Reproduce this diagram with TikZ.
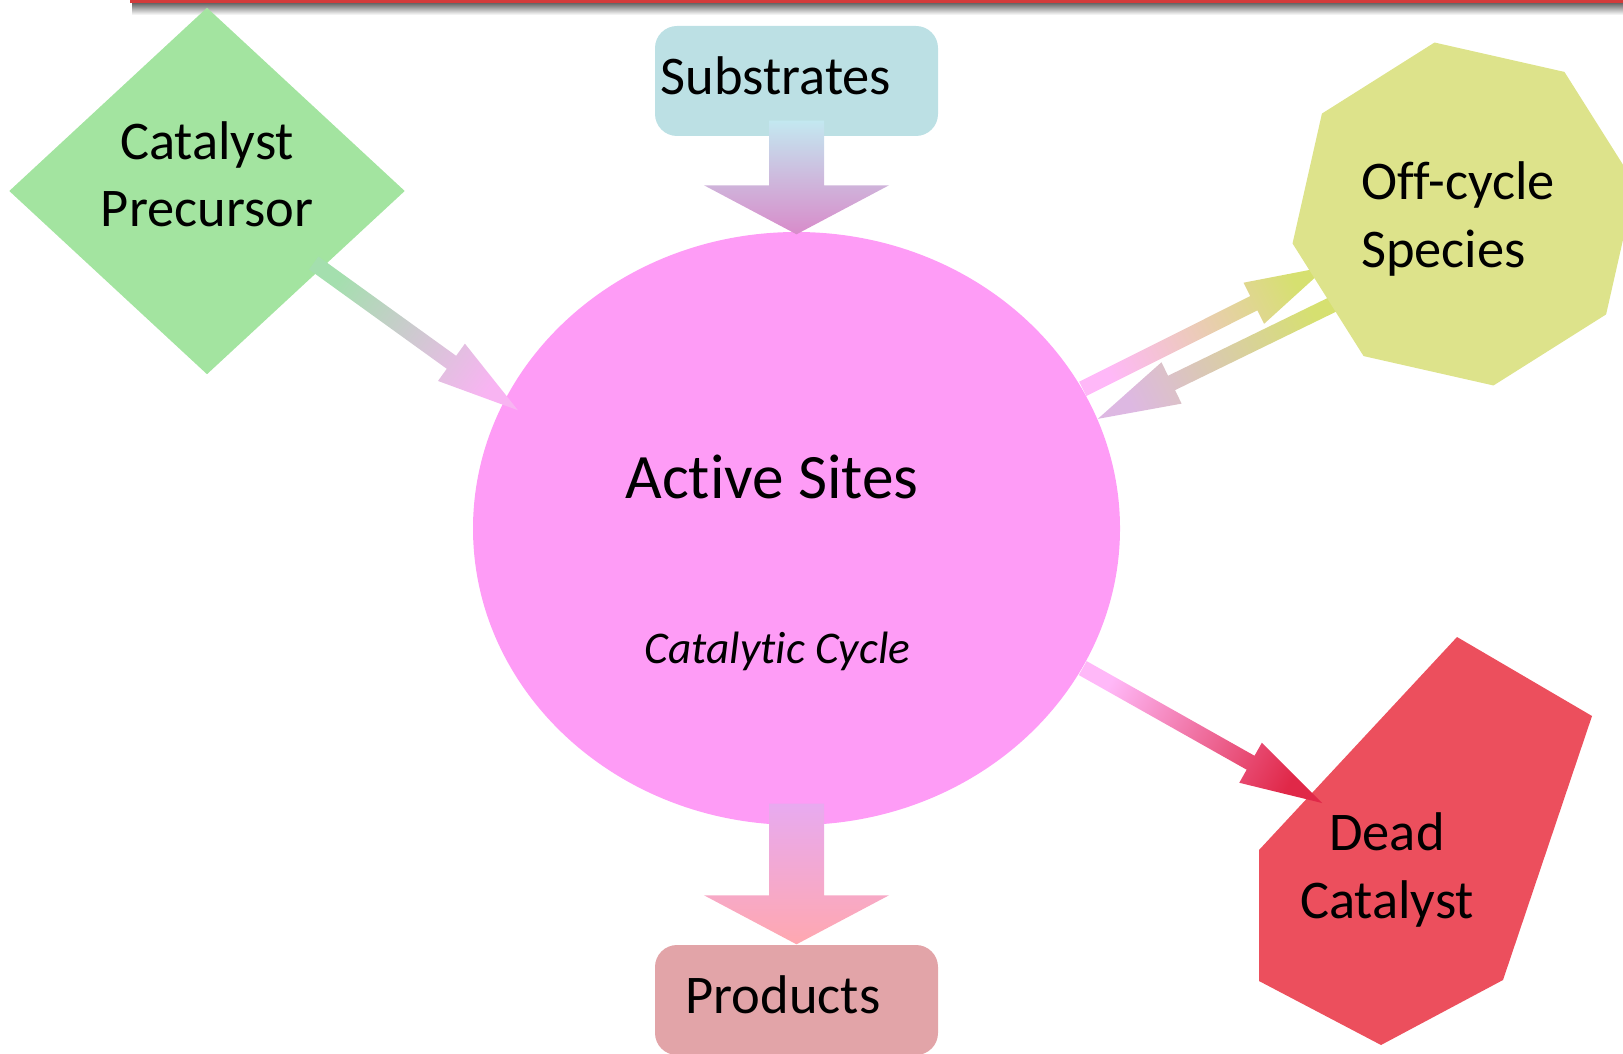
\documentclass[tikz,border=0pt]{standalone}
\usepackage{fontspec}
\setmainfont{Carlito}[Ligatures=NoCommon]
\usetikzlibrary{positioning,shapes.geometric,calc}
\definecolor{mint}{HTML}{A3E4A0}
\definecolor{ice}{HTML}{BCE0E4}
\definecolor{rose}{HTML}{E2A4A8}
\definecolor{orchid}{HTML}{FE9CF6}
\definecolor{lime}{HTML}{DDE38B}
\definecolor{crimson}{HTML}{EC4F5D}
\definecolor{rule}{HTML}{D33B3B}
\definecolor{subA}{HTML}{C3E8F0}
\definecolor{subB}{HTML}{D88BCA}
\definecolor{prodA}{HTML}{E8AAF0}
\definecolor{prodB}{HTML}{FFA8B0}
\definecolor{precA}{HTML}{A4DFAE}
\definecolor{precB}{HTML}{F8B4F2}
\definecolor{outA}{HTML}{FFB8F8}
\definecolor{outB}{HTML}{D6E070}
\definecolor{backA}{HTML}{D6E070}
\definecolor{backB}{HTML}{DDB8E2}
\definecolor{deadA}{HTML}{FFB8F8}
\definecolor{deadB}{HTML}{E02848}
\pgfdeclarelayer{front}
\pgfsetlayers{main,front}
\newcommand\arrowdims[3]{\def\fashaft{#1}\def\fahead{#2}\def\falen{#3}}
\newcommand\flowarrow[4]{%
  \coordinate (fa-tail) at #1;
  \coordinate (fa-tip) at #2;
  \coordinate (fa-base) at ($(fa-tip)!\falen!(fa-tail)$);
  \pgfmathanglebetweenpoints{\pgfpointanchor{fa-tail}{center}}{\pgfpointanchor{fa-tip}{center}}%
  \pgfmathsetmacro\faangle{\pgfmathresult+90}%
  \shade[top color=#3,bottom color=#4,shading angle=\faangle]
    ($(fa-tail)!\fashaft!90:(fa-tip)$) -- ($(fa-base)!\fashaft!90:(fa-tip)$)
    -- ($(fa-base)!\fahead!90:(fa-tip)$) -- (fa-tip)
    -- ($(fa-base)!\fahead!-90:(fa-tip)$) -- ($(fa-base)!\fashaft!-90:(fa-tip)$)
    -- ($(fa-tail)!\fashaft!-90:(fa-tip)$) -- cycle;
}

\begin{document}
\begin{tikzpicture}[x=1cm,y=1cm,
  lbl/.style={inner sep=0pt,align=center,font=\fontsize{15.5}{19.1}\selectfont},
  box/.style={rectangle,rounded corners=0.22cm,minimum width=2.83cm,minimum height=1.10cm,inner sep=0pt}]
\useasboundingbox (0,0) rectangle (16.23,10.53);
\clip (0,0) rectangle (16.23,10.53);
\shade[top color=black!60,bottom color=white] (1.32,10.38) rectangle (16.23,10.50);
\fill[rule] (1.30,10.495) rectangle (16.23,10.53);

\node[diamond,fill=mint,minimum width=3.96cm,minimum height=3.67cm,inner sep=0pt] (precursor) at (2.07,8.62) {};
\node[lbl] (precursor text) at ($(precursor)+(0,0.165)$) {Catalyst\\Precursor};
\node[box,fill=ice] (substrates) at (7.965,9.72) {};
\node[lbl,anchor=base] (substrates text) at (7.76,9.58) {Substrates};
\node[ellipse,fill=orchid,minimum width=6.47cm,minimum height=5.93cm,inner sep=0pt] (active) at (7.965,5.245) {};
\node[anchor=base,inner sep=0pt,font=\fontsize{18}{22}\selectfont] (active text) at (7.72,5.547) {Active Sites};
\node[anchor=base,inner sep=0pt,font=\fontsize{12.9}{15}\selectfont\itshape] (cycle text) at (7.775,3.90) {Catalytic Cycle};
\node[box,fill=rose] (products) at (7.965,0.53) {};
\node[lbl,anchor=base] (products text) at (7.83,0.397) {Products};
\fill[crimson] (14.57,4.16) -- (15.92,3.37) -- (15.03,0.73) -- (13.81,0.08) -- (12.59,0.72) -- (12.59,2.03) -- cycle;
\node[lbl] (dead) at (13.87,1.83) {Dead\\Catalyst};
\coordinate (dead in) at ($(dead)+(-0.65,0.67)$);
\begin{pgfonlayer}{front}
\node[regular polygon,regular polygon sides=8,shape border rotate=-12.75,minimum size=3.48cm,inner sep=0pt,fill=lime] (offcycle) at (14.64,8.39) {};
\node[lbl,align=left] (offcycle text) at ($(offcycle)+(-0.06,-0.05)$) {Off-cycle\\Species};
\end{pgfonlayer}

\arrowdims{0.275cm}{0.925cm}{0.49cm}
\flowarrow{($(substrates.south)+(0,0.16)$)}{($(active.north)+(0,-0.03)$)}{subA}{subB}
\flowarrow{($(active.south)+(0,0.22)$)}{(products.north)}{prodA}{prodB}
\arrowdims{0.08cm}{0.23cm}{0.82cm}
\flowarrow{($(precursor.-34)!0.1cm!(precursor.center)$)}{($(active.157)!0.17cm!(active.center)$)}{precA}{precB}
\flowarrow{(active.26)}{($(offcycle.201)!0.18cm!(offcycle.center)$)}{outA}{outB}
\flowarrow{($(offcycle.215)!0.1cm!(offcycle.center)$)}{(active.20)}{backA}{backB}
\flowarrow{(active.-26)}{(dead in)}{deadA}{deadB}
\end{tikzpicture}
\end{document}
